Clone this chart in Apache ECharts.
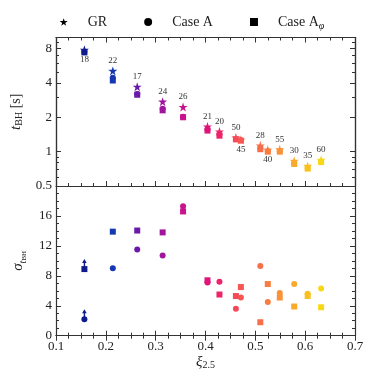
<!DOCTYPE html>
<html><head><meta charset="utf-8">
<script src="https://cdn.jsdelivr.net/npm/echarts@6/dist/echarts.min.js"></script>
<style>html,body{margin:0;padding:0;background:#fff}#c{width:374px;height:374px}</style>
</head><body><div id="c"></div>
<script>
const xi = [0.157,0.214,0.263,0.314,0.355,0.404,0.428,0.461,0.471,0.510,0.525,0.549,0.578,0.605,0.632];
const runLabels = ['18','22','17','24','26','21','20','50','45','28','40','55','30','35','60'];
const labelsBelow = ['18','45','40'];
const colors = ['#0f1b8c','#1438b0','#6a1aaa','#a0159c','#c8138c','#de1479','#ee2468','#f74a58','#f75652','#f86e48','#f87d40','#f99238','#f9aa2c','#f8c11e','#f8d816'];
const tGR      = [7.8,5.1,3.7,2.74,2.46,1.66,1.5,1.33,1.27,1.13,1.04,1.05,0.83,0.75,0.85];
const tCaseA   = [7.5,4.45,3.2,2.38,2.02,1.56,1.42,1.29,1.26,1.07,1.01,1.01,0.79,0.72,0.82];
const tCaseAphi= [7.4,4.2,3.15,2.3,2.0,1.53,1.38,1.28,1.25,1.05,1.0,1.0,0.78,0.71,0.81];
const sigmaCaseA    = [2.2,9.0,11.5,10.7,17.3,7.1,7.2,3.6,5.1,9.3,4.5,5.7,6.9,5.6,6.3];
const sigmaCaseAphi = [8.9,13.9,14.05,13.8,16.6,7.4,5.5,5.3,6.5,1.8,6.9,5.1,3.9,5.3,3.8];
const lowerLimitIdx = [0];
const yTopLabels = [0.5,1,2,4,8];
const yTopMinor = [0.6,0.7,0.8,0.9,3,5,6,7,9];

const FONT = 'Liberation Serif';
const AX = '#333';
const STAR = 'path://M50,0 L61.8,35.1 L98.6,35.1 L68.8,56.7 L80.2,91.9 L50,70.2 L19.8,91.9 L31.2,56.7 L1.4,35.1 L38.2,35.1 Z';

const chart = echarts.init(document.getElementById('c'));
const G0 = {left:56, right:19, top:37.5, bottom:188};
const G1 = {left:56, right:19, top:186, bottom:38.3};

function xAx(grid, pos, labels){
  return {type:'value', gridIndex:grid, position:pos, min:0.1, max:0.7, interval:0.1,
    axisLine:{show:true, lineStyle:{color:AX, width:1.2}},
    axisTick:{show:true, inside:true, length:5, lineStyle:{color:AX}},
    minorTick:{show:true, splitNumber:4, length:3, lineStyle:{color:AX}},
    splitLine:{show:false},
    axisLabel:{show:labels, fontFamily:FONT, fontSize:13, color:'#222', margin:4},
    name: labels ? '{i|ξ}{s|2.5}' : '', nameLocation:'middle', nameGap:17,
    nameTextStyle:{fontFamily:FONT, color:'#222', rich:{
      i:{fontFamily:FONT, fontStyle:'italic', fontSize:15, lineHeight:18, color:'#222'},
      s:{fontFamily:FONT, fontSize:10, verticalAlign:'bottom', lineHeight:10, color:'#222'}}}
  };
}
function yLog(pos, ticks, len, labels, name){
  return {type:'log', logBase:2, gridIndex:0, position:pos, min:0.5, max:10,
    axisLine:{show:true, lineStyle:{color:AX, width:1.2}},
    axisTick:{show:true, inside:true, length:len, customValues:ticks, lineStyle:{color:AX}},
    minorTick:{show:false},
    splitLine:{show:false},
    axisLabel:{show:labels, customValues:yTopLabels, fontFamily:FONT, fontSize:13, color:'#222', margin:4,
      formatter:v=>String(v)},
    name: name||'', nameLocation:'middle', nameGap:23,
    nameTextStyle:{rich:{
      i:{fontFamily:FONT, fontStyle:'italic', fontSize:15, lineHeight:18, color:'#222'},
      s:{fontFamily:FONT, fontSize:10, verticalAlign:'bottom', lineHeight:10, color:'#222'},
      n:{fontFamily:FONT, fontSize:14, lineHeight:18, color:'#222'}}}
  };
}
function yLin(pos, labels, name){
  return {type:'value', gridIndex:1, position:pos, min:0, max:20, interval:4,
    axisLine:{show:true, lineStyle:{color:AX, width:1.2}},
    axisTick:{show:true, inside:true, length:5, lineStyle:{color:AX}},
    minorTick:{show:true, splitNumber:4, length:3, lineStyle:{color:AX}},
    splitLine:{show:false},
    axisLabel:{show:labels, showMaxLabel:false, fontFamily:FONT, fontSize:13, color:'#222', margin:4},
    name: name||'', nameLocation:'middle', nameGap:24,
    nameTextStyle:{rich:{
      i:{fontFamily:FONT, fontStyle:'italic', fontSize:15, lineHeight:20, color:'#222'},
      s:{fontFamily:FONT, fontStyle:'italic', fontSize:10, verticalAlign:'bottom', lineHeight:12, color:'#222'},
      ss:{fontFamily:FONT, fontSize:7, verticalAlign:'bottom', lineHeight:7, color:'#222'}}}
  };
}

function pts(vals, labelsOn){
  return xi.map((x,i)=>{
    const d = {value:[x, vals[i]], itemStyle:{color:colors[i], opacity:1}};
    if (labelsOn) d.label = {position: labelsBelow.includes(runLabels[i]) ? 'bottom' : 'top'};
    return d;
  });
}
const starLabel = {show:true, distance:1, fontFamily:FONT, fontSize:9, color:'#333',
  formatter:p=>runLabels[p.dataIndex]};
const full = {opacity:1};

const option = {
  animation:false,
  backgroundColor:'#fff',
  grid:[G0, G1],
  legend:{left:54.7, top:10, itemWidth:8, itemHeight:8, itemGap:37,
    itemStyle:{color:'#000', opacity:1},
    data:[{name:'GR', icon:STAR},{name:'Case A', icon:'circle'},{name:'Case Aφ', icon:'rect'}],
    formatter:n=> n==='Case Aφ' ? '{g|}{t|Case A}{s|φ}' : '{g|}{t|'+n+'}',
    textStyle:{fontFamily:FONT, fontSize:14, color:'#222', rich:{
      g:{width:15},
      t:{fontFamily:FONT, fontSize:14, lineHeight:18, color:'#222'},
      s:{fontFamily:FONT, fontStyle:'italic', fontSize:10, verticalAlign:'bottom', lineHeight:10, color:'#222'}}}
  },
  xAxis:[xAx(0,'bottom',false), xAx(0,'top',false), xAx(1,'bottom',true), xAx(1,'top',false)],
  yAxis:[
    yLog('left', yTopLabels, 5, true, '{i|t}{s|BH}{n| [s]}'),
    yLog('left', yTopMinor, 3, false),
    yLog('right', yTopLabels, 5, false),
    yLog('right', yTopMinor, 3, false),
    yLin('left', true, '{i|σ}{s|t}{ss|BH}'),
    yLin('right', false)
  ],
  series:[
    {name:'GR', type:'scatter', xAxisIndex:0, yAxisIndex:0, symbol:STAR, symbolSize:9, itemStyle:full,
      data:pts(tGR,true), label:starLabel, z:3},
    {name:'Case A', type:'scatter', xAxisIndex:0, yAxisIndex:0, symbol:'circle', symbolSize:6, itemStyle:full,
      data:pts(tCaseA,false), z:4},
    {name:'Case Aφ', type:'scatter', xAxisIndex:0, yAxisIndex:0, symbol:'rect', symbolSize:6, itemStyle:full,
      data:pts(tCaseAphi,false), z:5},
    {name:'Case A', type:'scatter', xAxisIndex:2, yAxisIndex:4, symbol:'circle', symbolSize:6, itemStyle:full,
      data:pts(sigmaCaseA,false), z:4},
    {name:'Case Aφ', type:'scatter', xAxisIndex:2, yAxisIndex:4, symbol:'rect', symbolSize:6, itemStyle:full,
      data:pts(sigmaCaseAphi,false), z:5},
    {type:'custom', xAxisIndex:2, yAxisIndex:4, z:3,
      data: lowerLimitIdx.flatMap(i=>[[xi[i], sigmaCaseA[i], i],[xi[i], sigmaCaseAphi[i], i]]),
      renderItem:(params, api)=>{
        const p = api.coord([api.value(0), api.value(1)]);
        const c = colors[api.value(2)];
        const top = p[1]-10;
        return {type:'group', children:[
          {type:'line', shape:{x1:p[0], y1:p[1], x2:p[0], y2:top+3}, style:{stroke:c, lineWidth:1.4}},
          {type:'polygon', shape:{points:[[p[0],top],[p[0]-2.3,top+4],[p[0]+2.3,top+4]]}, style:{fill:c}}
        ]};
      }}
  ]
};
chart.setOption(option);
</script></body></html>
